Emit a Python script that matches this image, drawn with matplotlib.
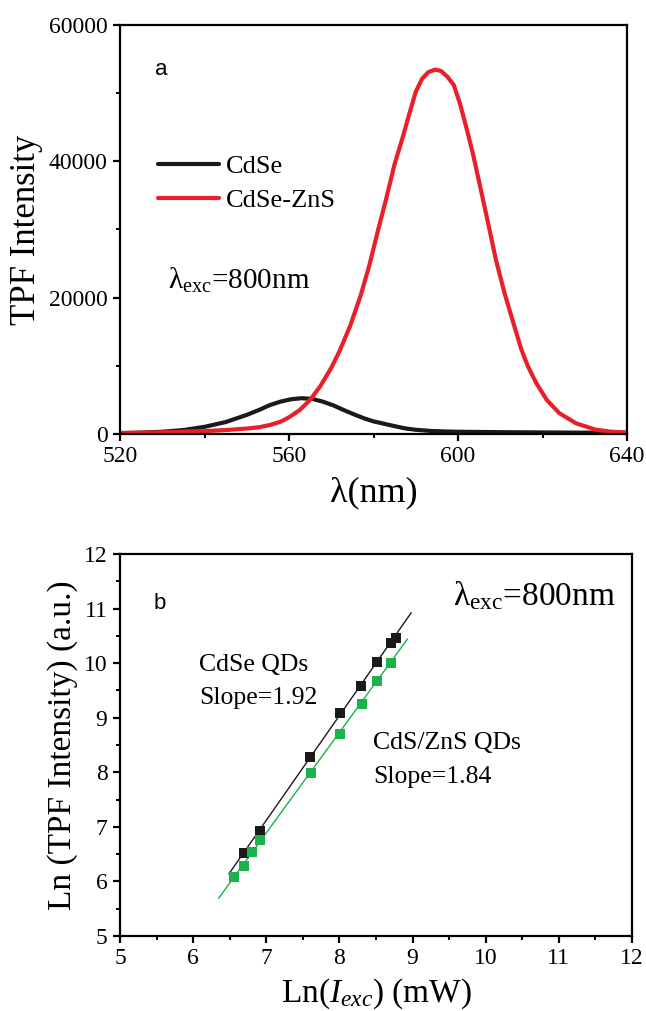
import numpy as np
import matplotlib
matplotlib.use("Agg")
import matplotlib.pyplot as plt
from matplotlib.ticker import MultipleLocator

plt.rcParams['font.family'] = ['Liberation Serif', 'DejaVu Serif']
plt.rcParams['mathtext.fontset'] = 'custom'
plt.rcParams['mathtext.rm'] = 'Liberation Serif'
plt.rcParams['mathtext.it'] = 'Liberation Serif:italic'
plt.rcParams['mathtext.bf'] = 'Liberation Serif:bold'

# ---------- panel a data ----------
wl_cdse = [520, 525, 530, 535, 540, 545, 550, 553, 555.5, 558, 560.5, 563, 565.5,
           568, 570.5, 573, 575.5, 578, 580, 582.5, 585, 587.5, 590, 593.5, 597,
           600, 610, 620, 630, 640]
int_cdse = [120, 200, 330, 580, 1050, 1750, 2800, 3550, 4250, 4750, 5100, 5250,
            5150, 4750, 4200, 3500, 2850, 2250, 1850, 1500, 1150, 820, 620, 450,
            370, 330, 270, 230, 200, 180]

wl_zns = [520, 530, 540, 545, 550, 553, 555.5, 558, 560, 562.5, 565, 567.5, 570,
          572, 574.5, 577, 579, 581, 583, 585, 587, 588.5, 590, 591.5, 593, 594.6,
          596, 597.5, 599, 600.5, 602, 603.5, 605, 607, 609, 611, 613, 615, 616.5,
          618.5, 621, 624, 628, 632.5, 636, 640]
int_zns = [150, 250, 420, 580, 800, 1000, 1320, 1800, 2450, 3500, 5000, 7100, 9700,
           12200, 15900, 20400, 24700, 29700, 34500, 39600, 43700, 47000, 50200,
           52100, 53100, 53450, 53250, 52400, 51200, 48400, 44900, 41200, 37000,
           31300, 25500, 20700, 16500, 12400, 10000, 7500, 5000, 3050, 1550, 650,
           350, 200]

# ---------- panel b data ----------
ln_i_cdse = [6.70, 6.92, 7.60, 8.01, 8.30, 8.52, 8.71, 8.77]
ln_f_cdse = [6.53, 6.93, 8.28, 9.09, 9.58, 10.02, 10.37, 10.46]
ln_i_zns = [6.56, 6.70, 6.81, 6.92, 7.61, 8.01, 8.31, 8.52, 8.70]
ln_f_zns = [6.09, 6.29, 6.54, 6.76, 7.99, 8.71, 9.26, 9.67, 10.00]
fit_cdse = (1.92, -6.32, 6.49, 8.98)   # slope, intercept, x start, x end
fit_zns = (1.84, -5.99, 6.35, 8.93)

W, H = 646, 1011
fig = plt.figure(figsize=(W / 100, H / 100), dpi=100)

RED = '#E8202A'
GREEN = '#1BB24B'
BLACK = '#1a1a1a'

def style(ax):
    for s in ax.spines.values():
        s.set_linewidth(1.6)
    ax.tick_params(which='major', direction='out', length=5, width=1.6,
                   labelsize=17, top=False, right=False, pad=4)
    ax.tick_params(which='minor', direction='out', length=3, width=1.4,
                   top=False, right=False)

# ---------- panel a ----------
ax1 = fig.add_axes([120 / W, 1 - 434 / H, (627 - 120) / W, (434 - 25) / H])
ax1.plot(wl_cdse, int_cdse, color=BLACK, lw=3.0, label='CdSe',
         solid_capstyle='round', solid_joinstyle='round')
ax1.plot(wl_zns, int_zns, color=RED, lw=3.0, label='CdSe-ZnS',
         solid_capstyle='round', solid_joinstyle='round')
ax1.set_xlim(520, 640)
ax1.set_ylim(0, 60000)
ax1.set_xticks([520, 560, 600, 640])
ax1.xaxis.set_minor_locator(MultipleLocator(20))
ax1.set_yticks([0, 20000, 40000, 60000])
ax1.yaxis.set_minor_locator(MultipleLocator(10000))
style(ax1)
ax1.set_xlabel('λ(nm)', fontsize=26, labelpad=6)
ax1.set_ylabel('TPF Intensity', fontsize=25, labelpad=4)
leg = ax1.legend(loc='upper left', bbox_to_anchor=(0.055, 0.709), frameon=False,
                 fontsize=19, handlelength=2.3, handletextpad=0.25,
                 labelspacing=0.4, borderaxespad=0)
ax1.text(0.07, 0.89, 'a', transform=ax1.transAxes, fontsize=16,
         family='Liberation Sans', ha='left', va='center')
ax1.text(0.095, 0.355, r'$\mathrm{\lambda_{exc}}$=800nm', transform=ax1.transAxes,
         fontsize=21, ha='left', va='baseline')

# ---------- panel b ----------
ax2 = fig.add_axes([120 / W, 1 - 936 / H, (632 - 120) / W, (936 - 554) / H])
for (sl, ic, x0, x1), col in ((fit_cdse, BLACK), (fit_zns, GREEN)):
    xs = np.array([x0, x1])
    ax2.plot(xs, sl * xs + ic, color=col, lw=1.0)
ax2.plot(ln_i_cdse, ln_f_cdse, 's', color=BLACK, ms=6.8, mew=0)
ax2.plot(ln_i_zns, ln_f_zns, 's', color=GREEN, ms=6.8, mew=0)
ax2.set_xlim(5, 12)
ax2.set_ylim(5, 12)
ax2.xaxis.set_major_locator(MultipleLocator(1))
ax2.xaxis.set_minor_locator(MultipleLocator(0.5))
ax2.yaxis.set_major_locator(MultipleLocator(1))
ax2.yaxis.set_minor_locator(MultipleLocator(0.5))
style(ax2)
ax2.set_xlabel(r'Ln($\mathit{I}_{\mathit{exc}}$) (mW)', fontsize=24, labelpad=5)
ax2.set_ylabel('Ln (TPF Intensity) (a.u.)', fontsize=24, labelpad=4)
ax2.text(0.065, 0.87, 'b', transform=ax2.transAxes, fontsize=16,
         family='Liberation Sans', ha='left', va='center')
ax2.text(0.65, 0.865, r'$\mathrm{\lambda_{exc}}$=800nm', transform=ax2.transAxes,
         fontsize=24, ha='left', va='baseline')
ax2.text(0.155, 0.695, 'CdSe QDs', transform=ax2.transAxes, fontsize=18.5,
         ha='left', va='baseline')
ax2.text(0.155, 0.608, 'Slope=1.92', transform=ax2.transAxes, fontsize=18.5,
         ha='left', va='baseline')
ax2.text(0.494, 0.49, 'CdS/ZnS QDs', transform=ax2.transAxes, fontsize=18.5,
         ha='left', va='baseline')
ax2.text(0.494, 0.40, 'Slope=1.84', transform=ax2.transAxes, fontsize=18.5,
         ha='left', va='baseline')

fig.savefig('out.png', dpi=100)
